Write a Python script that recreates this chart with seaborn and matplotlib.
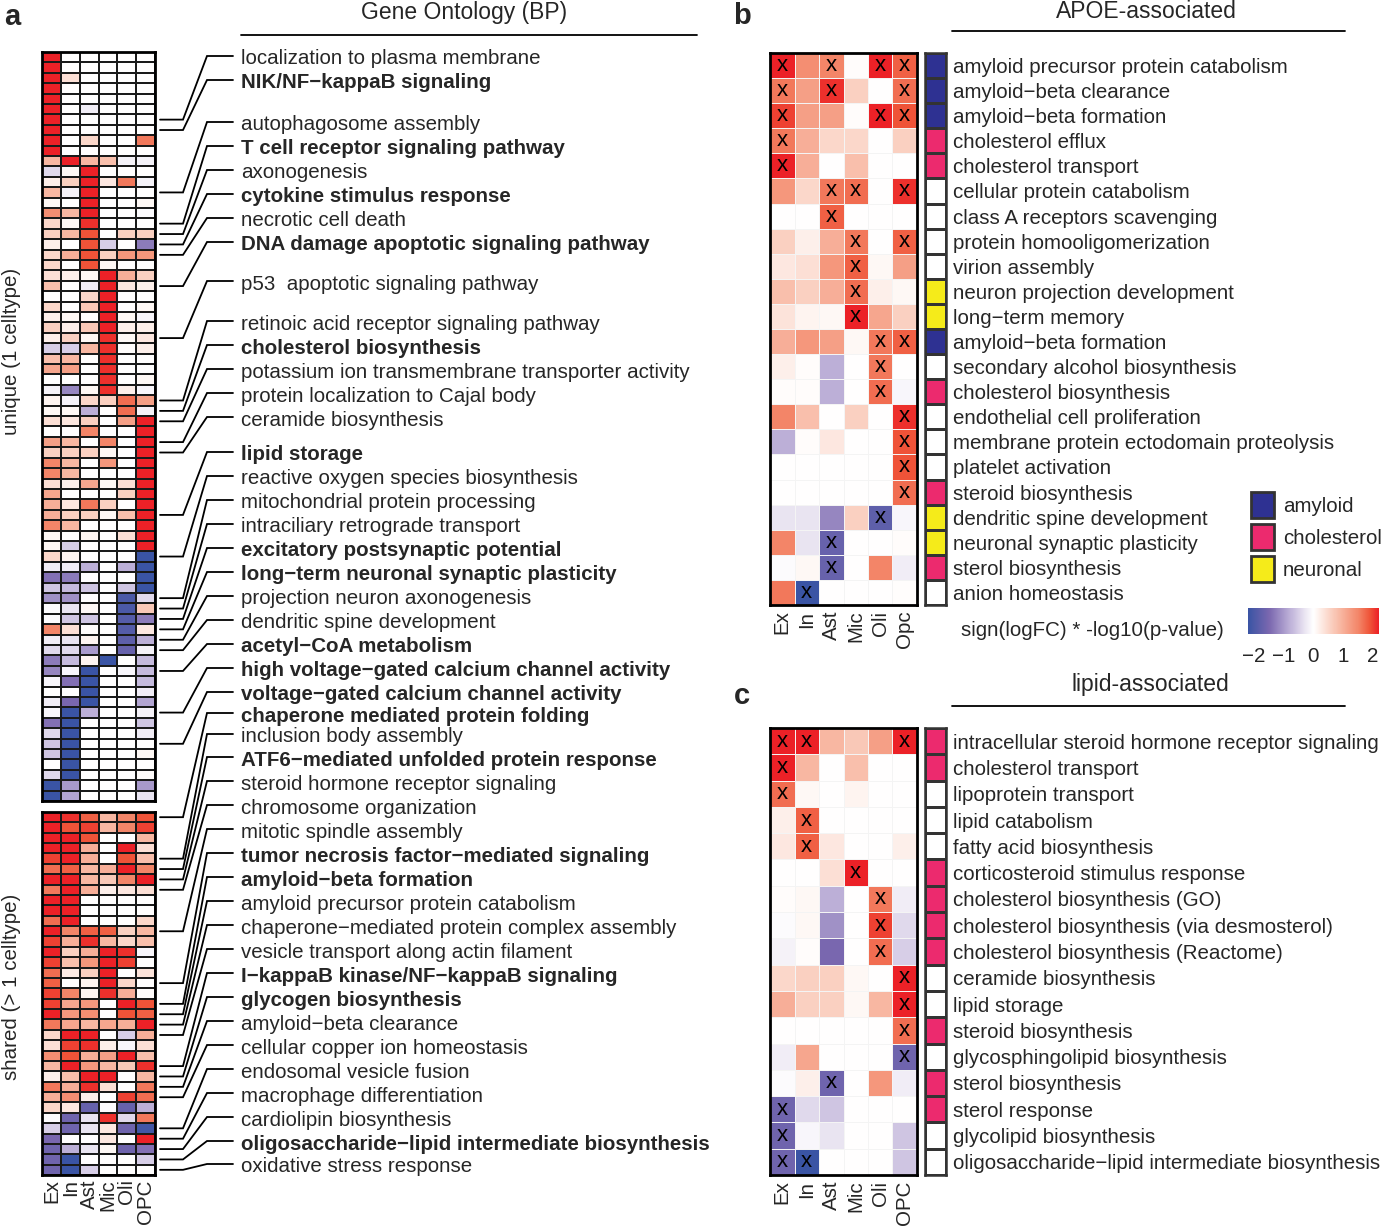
import numpy as np
import pandas as pd
import matplotlib
matplotlib.use("Agg")
import matplotlib.pyplot as plt
import seaborn as sns
from matplotlib.colors import LinearSegmentedColormap, ListedColormap, Normalize
from matplotlib.cm import ScalarMappable
from matplotlib.patches import Patch

sns.set_style("white")
plt.rcParams['font.family'] = ['Liberation Sans', 'DejaVu Sans']

# ---------------- data ----------------
cell_types = ['Ex', 'In', 'Ast', 'Mic', 'Oli', 'OPC']
cell_types_b = ['Ex', 'In', 'Ast', 'Mic', 'Oli', 'Opc']

# panel a, unique (1 celltype) block, columns = cell_types
unique_vals = [
    [2.3, 0, 0, 0, 0, 0], [2.3, 0, 0, 0, 0, 0], [2.3, 0.4, 0, 0, 0, 0],
    [2.3, 0, 0, 0, 0, 0], [2.3, 0, 0, 0, 0, 0], [2.3, 0, -0.2, 0, 0, 0],
    [2.3, 0, 0, 0, 0, 0], [2.3, 0, 0, 0, 0, 0], [2.3, 0, 0.5, 0, 0, 1.6],
    [2.3, 0, 0, 0, 0, 0], [0.9, 2.3, 0.9, 0.8, -0.15, -0.15], [-0.4, 0.1, 2.3, 0, 0, 0],
    [0.2, 0.6, 2.3, 0.3, 1.6, -0.15], [0.9, -0.15, 2.3, 0, 0, 0], [0.1, 0, 2.3, 0, 0, 0.1],
    [1.4, 0.9, 2.3, 0, 0, -0.05], [0.5, 0.1, 2.1, 0, 0, 0], [0.6, 0.9, 1.9, 0, 0.6, 0.6],
    [0.2, 0, 1.9, -0.5, 0, -1.3], [0.5, 1.0, 1.9, 0.6, 1.3, 1.3], [0.5, 0, 1.9, 0.1, 0, 0],
    [0.4, 0.2, 0.1, 2.3, 1.0, 0.6], [0.8, 0, -0.2, 2.3, 0.3, 0.2], [0, 0, 0.5, 2.3, 0, 0],
    [0.5, 0, 0.7, 2.3, 0, 0.1], [0.2, 0.1, 0, 2.3, 0.1, -0.1], [0.6, 0.2, 0.7, 2.3, 0.2, 0.2],
    [0.2, 0.6, 0.1, 2.1, 0.1, 0.3], [-0.5, -0.5, 0.9, 2.1, 0.05, 0.2], [0.8, 0.9, 0, 2.1, 0, 0],
    [1.1, 1.2, 0, 2.1, 0, 0], [0, 0, 0, 2.1, 0, 0.1], [-0.15, -1.2, 0.1, 2.1, 0.2, -0.1],
    [0.15, -0.15, 0.5, 0.6, 1.7, 1.2], [0.1, 0.1, -0.8, 0, 1.7, -0.15], [0.4, 0.3, 0.6, 0, 1.2, 2.3],
    [0, 0, 1.5, 0, 0, 2.3], [1.2, 0.9, 0, 1.5, 0, 2.3], [0.6, 0.6, 0.6, 0.1, 0, 2.3],
    [1.5, 0.9, 0, 1.3, 0, 2.3], [1.5, 0.9, 0, 0, 0, 2.3], [0.4, 0.2, 1.1, 0.1, 0.4, 2.3],
    [1.1, 0, 0, 0, 0.6, 2.3], [1.0, 0.3, 1.6, 0.6, 0, 2.3], [1.0, 0.6, 0.6, 0.1, 0.8, 2.3],
    [1.5, 0.9, 0, 0, 0, 2.3], [0.1, 0, 0.15, 0, 0.4, 2.3], [0.1, -0.5, 0, 0, 0, 2.3],
    [0.5, 0.15, 0, 0, 0, -2.3], [-0.2, -0.2, -0.8, 0, -0.8, -2.3], [-1.4, -1.3, 0, 0, 0, -2.3],
    [-0.6, -0.7, -0.6, 0, -0.6, -2.3], [-1.1, -1.1, 0, 0, -2.0, -0.4], [-0.05, -0.3, 0.1, 0, -2.0, 0.7],
    [-0.05, -0.6, -0.6, 0, -1.9, -1.3], [1.5, 0.4, 0.05, 0, -1.9, 0.3], [-0.2, -0.3, 0.15, 0, -1.8, -0.8],
    [-0.4, -0.4, -1.0, 0, -1.7, -0.15], [-1.3, -0.7, 0.15, -2.2, 0, -0.7], [-1.2, -0.1, -2.3, 0, -0.1, -0.7],
    [-0.1, -1.4, -2.3, 0, 0, -0.7], [0, 0, -2.2, 0, 0, -0.2], [-0.2, -1.5, -2.2, 0, 0, -0.9],
    [-0.1, -2.3, -0.8, 0, 0, -0.15], [-1.4, -2.3, 0, 0, 0, -0.6], [-0.4, -2.3, 0, 0, 0, -0.2],
    [-0.6, -2.3, 0, 0, 0, 0], [-0.6, -2.3, 0, 0, 0, 0.1], [0, -2.3, 0, 0, 0, 0],
    [-0.4, -2.3, 0, 0, 0, 0.05], [-2.3, -1.0, 0, 0, 0, -1.0], [-2.3, -0.9, 0, 0, 0, -0.3],
]

# panel a, shared (> 1 celltype) block
shared_vals = [
    [2.3, 2.1, 1.8, 0.9, 1.5, 1.9], [2.3, 1.9, 2.0, 0.9, 1.5, 2.0], [2.3, 2.3, 1.9, 0, 0, 0.9],
    [2.3, 2.3, 1.0, 0, 2.3, 0.4], [2.0, 2.3, 1.0, 0, 1.9, 0.8], [1.7, 1.8, 0.9, 1.0, 2.2, 1.5],
    [2.3, 2.3, 0.9, 0.7, 1.5, 2.3], [1.6, 2.3, 1.0, 0.2, 0.3, 0.4], [2.3, 2.3, 0, 0, 0, 0],
    [2.3, 2.3, 0, 0, 0, 0], [1.7, 2.2, 0, 0, 0, 0.5], [2.3, 1.5, 1.8, 1.8, 0.6, 0.9],
    [2.0, 1.0, 2.1, 0.9, 0.5, 0.8], [2.3, 0.6, 1.0, 2.3, 2.1, -0.1], [2.0, 0.8, 1.3, 2.3, 2.0, 0],
    [1.7, 0.25, 0.6, 2.3, 0, 0.35], [1.8, 0, 0.15, 2.3, 0.5, 0], [2.0, 1.5, 0.15, 2.1, 1.0, 0.05],
    [2.0, 1.1, 1.3, 0, 2.3, 1.9], [2.3, 1.3, 1.4, 0, 1.9, 1.8], [1.6, 1.1, 0.9, 1.1, 1.0, 2.3],
    [0.5, 2.3, 2.3, 0, -0.5, 1.0], [0.4, 2.0, 2.1, 0.2, -0.1, 0.4], [1.4, 1.9, 1.0, 1.2, 2.3, 0.8],
    [0.9, 2.3, 1.3, 0.9, 0.7, 2.1], [0.2, 0.8, 2.3, 2.3, 0, 0.9], [1.6, 1.0, 2.1, 0.4, 0, 1.6],
    [1.0, 1.4, 0.2, 0, 2.0, 1.7], [0.5, 0.3, -1.7, -0.05, -1.7, -0.8], [-0.05, -1.6, -0.3, 2.1, -0.4, 1.6],
    [-0.5, -1.6, -0.3, 0.3, -1.6, -2.1], [-1.5, 0, 0, 0.3, 0, 2.3], [-1.6, -0.8, -0.3, 0.1, -1.6, -1.4],
    [-1.6, -2.3, 0, 0, 0, -0.5], [-1.6, -2.3, -0.5, 0, 0, 0],
]

go_terms = [
    'localization to plasma membrane', 'NIK/NF\u2212kappaB signaling', 'autophagosome assembly',
    'T cell receptor signaling pathway', 'axonogenesis', 'cytokine stimulus response',
    'necrotic cell death', 'DNA damage apoptotic signaling pathway', 'p53  apoptotic signaling pathway',
    'retinoic acid receptor signaling pathway', 'cholesterol biosynthesis',
    'potassium ion transmembrane transporter activity', 'protein localization to Cajal body',
    'ceramide biosynthesis', 'lipid storage', 'reactive oxygen species biosynthesis',
    'mitochondrial protein processing', 'intraciliary retrograde transport',
    'excitatory postsynaptic potential', 'long\u2212term neuronal synaptic plasticity',
    'projection neuron axonogenesis', 'dendritic spine development', 'acetyl\u2212CoA metabolism',
    'high voltage\u2212gated calcium channel activity', 'voltage\u2212gated calcium channel activity',
    'chaperone mediated protein folding', 'inclusion body assembly',
    'ATF6\u2212mediated unfolded protein response', 'steroid hormone receptor signaling',
    'chromosome organization', 'mitotic spindle assembly', 'tumor necrosis factor\u2212mediated signaling',
    'amyloid\u2212beta formation', 'amyloid precursor protein catabolism',
    'chaperone\u2212mediated protein complex assembly', 'vesicle transport along actin filament',
    'I\u2212kappaB kinase/NF\u2212kappaB signaling', 'glycogen biosynthesis', 'amyloid\u2212beta clearance',
    'cellular copper ion homeostasis', 'endosomal vesicle fusion', 'macrophage differentiation',
    'cardiolipin biosynthesis', 'oligosaccharide\u2212lipid intermediate biosynthesis',
    'oxidative stress response',
]
go_bold = [2, 4, 6, 8, 11, 15, 19, 20, 23, 24, 25, 26, 28, 32, 33, 37, 38, 44]
# heatmap row (1-based) each GO term points to
go_rows_unique = [7, 8, 14, 17, 18, 19, 20, 23, 28, 34, 35, 36, 38, 39, 45, 49, 53, 54, 55, 56, 57,
                  58, 60, 64, 67]
go_rows_shared = [1, 5, 6, 7, 8, 12, 17, 19, 20, 21, 22, 25, 26, 27, 28, 31, 32, 33, 34, 35]

# panel b, APOE-associated
apoe_terms = [
    'amyloid precursor protein catabolism', 'amyloid\u2212beta clearance', 'amyloid\u2212beta formation',
    'cholesterol efflux', 'cholesterol transport', 'cellular protein catabolism',
    'class A receptors scavenging', 'protein homooligomerization', 'virion assembly',
    'neuron projection development', 'long\u2212term memory', 'amyloid\u2212beta formation',
    'secondary alcohol biosynthesis', 'cholesterol biosynthesis', 'endothelial cell proliferation',
    'membrane protein ectodomain proteolysis', 'platelet activation', 'steroid biosynthesis',
    'dendritic spine development', 'neuronal synaptic plasticity', 'sterol biosynthesis',
    'anion homeostasis',
]
apoe_vals = [
    [2.3, 1.4, 1.5, 0.05, 2.2, 1.8], [1.6, 1.2, 2.1, 0.6, 0, 1.7], [2.0, 1.2, 1.2, 0.05, 2.3, 1.9],
    [1.6, 1.0, 0.5, 0.5, 0, 0.6], [2.3, 1.0, 0, 0.8, 0, 0], [1.3, 0.5, 1.6, 1.7, 0, 2.1],
    [0, 0, 1.8, 0, 0, 0], [0.6, 0.2, 1.0, 1.6, 0, 1.8], [0.3, 0.4, 1.3, 1.8, 0.1, 1.2],
    [0.8, 0.6, 1.0, 1.7, 0.2, 0.1], [0.35, 0.15, 0.1, 2.3, 1.1, 0.6], [1.0, 1.3, 1.2, 0.1, 1.6, 1.8],
    [0.2, 0.05, -0.8, 0, 1.6, 0], [0.05, 0.05, -0.8, 0, 1.7, -0.1], [1.5, 0.8, 0, 0.6, 0, 2.1],
    [-0.8, 0.05, 0.3, 0, 0, 1.9], [0, 0, 0, 0, 0, 1.9], [0, 0, 0, 0, 0, 1.7],
    [-0.3, -0.3, -1.2, 0.6, -1.8, -0.1], [1.5, -0.3, -1.7, 0, 0, 0.05], [-0.05, 0.1, -1.7, 0, 1.5, -0.2],
    [1.6, -2.3, 0, 0, 0, 0.02],
]
apoe_sig = ['X.X.XX', 'X.X..X', 'X...XX', 'X.....', 'X.....', '..XX.X', '..X...', '...X.X',
            '...X..', '...X..', '...X..', '....XX', '....X.', '....X.', '.....X', '.....X',
            '.....X', '.....X', '....X.', '..X...', '..X...', '.X....']
apoe_cat = [1, 1, 1, 2, 2, 0, 0, 0, 0, 3, 3, 1, 0, 2, 0, 0, 0, 2, 3, 3, 2, 0]

# panel c, lipid-associated
lipid_terms = [
    'intracellular steroid hormone receptor signaling', 'cholesterol transport', 'lipoprotein transport',
    'lipid catabolism', 'fatty acid biosynthesis', 'corticosteroid stimulus response',
    'cholesterol biosynthesis (GO)', 'cholesterol biosynthesis (via desmosterol)',
    'cholesterol biosynthesis (Reactome)', 'ceramide biosynthesis', 'lipid storage',
    'steroid biosynthesis', 'glycosphingolipid biosynthesis', 'sterol biosynthesis', 'sterol response',
    'glycolipid biosynthesis', 'oligosaccharide\u2212lipid intermediate biosynthesis',
]
lipid_vals = [
    [2.3, 2.3, 0.9, 0.7, 1.2, 2.3], [2.3, 0.9, 0, 0.8, 0, 0], [1.7, 0.1, 0, 0.15, 0, 0],
    [0.2, 1.8, 0, 0, 0, 0], [0.3, 1.8, 0.3, 0, 0, 0.2], [0, 0, 0.4, 2.3, 0, 0],
    [0.05, 0.1, -0.8, 0, 1.6, -0.2], [-0.05, 0.1, -1.1, 0, 2.0, -0.4], [-0.15, 0.05, -1.5, 0, 1.7, -0.5],
    [0.5, 0.6, 0.6, 0.1, 0, 2.3], [1.0, 0.6, 0.6, 0.1, 0.9, 2.3], [0, 0, 0, 0, 0, 1.7],
    [-0.2, 1.1, 0, 0, 0, -1.6], [-0.05, 0.2, -1.6, 0, 1.3, -0.2], [-1.6, -0.4, -0.6, 0, 0, 0],
    [-1.6, -0.1, -0.3, 0, 0, -0.6], [-1.6, -2.3, 0, 0, 0, -0.6],
]
lipid_sig = ['XX...X', 'X.....', 'X.....', '.X....', '.X....', '...X..', '....X.', '....X.',
             '....X.', '.....X', '.....X', '.....X', '.....X', '..X...', 'X.....', 'X.....', 'XX....']
lipid_cat = [2, 2, 0, 0, 0, 2, 2, 2, 2, 0, 0, 2, 0, 2, 2, 0, 0]

cat_names = ['amyloid', 'cholesterol', 'neuronal']
cat_colors = ['#FFFFFF', '#2E3192', '#EC2A6E', '#F5EB1A']

# ---------------- figure ----------------
W, H = 1389, 1228
fig = plt.figure(figsize=(W / 100, H / 100), dpi=100)

VMAX = 2.2
cmap = LinearSegmentedColormap.from_list('div', [
    (0.0, '#3A54A4'), (0.16, '#7A67AF'), (0.32, '#BDB0D8'), (0.43, '#E9E3F1'), (0.5, '#FFFFFF'),
    (0.59, '#FCE0D6'), (0.70, '#F8B9A4'), (0.84, '#F3876A'), (0.93, '#EF5539'), (1.0, '#EC2127')])


def px_axes(x0, y0, x1, y1):
    return fig.add_axes([x0 / W, 1 - y1 / H, (x1 - x0) / W, (y1 - y0) / H])


def frame(ax, lw=2.0, color='black'):
    for s in ax.spines.values():
        s.set_visible(True)
        s.set_linewidth(lw)
        s.set_color(color)


FS = 14.8
TFS = 16.5

# panel a heatmaps
A_X0, A_X1 = 42, 155
U_Y0, U_Y1 = 52, 801
S_Y0, S_Y1 = 812, 1175
ax_u = px_axes(A_X0, U_Y0, A_X1, U_Y1)
sns.heatmap(pd.DataFrame(unique_vals, columns=cell_types), ax=ax_u, cmap=cmap, vmin=-VMAX, vmax=VMAX,
            cbar=False, linewidths=1.3, linecolor='#1a1a1a', xticklabels=False, yticklabels=False)
frame(ax_u)
ax_s = px_axes(A_X0, S_Y0, A_X1, S_Y1)
sns.heatmap(pd.DataFrame(shared_vals, columns=cell_types), ax=ax_s, cmap=cmap, vmin=-VMAX, vmax=VMAX,
            cbar=False, linewidths=1.3, linecolor='#1a1a1a', yticklabels=False)
frame(ax_s)
ax_s.set_xticklabels(cell_types, rotation=90, fontsize=FS)
ax_s.tick_params(axis='x', length=0, pad=3)
ax_s.set_xlabel('')


def small_heatmap(box, vals, sig, cats, terms, cols):
    x0, y0, x1, y1 = box
    ax = px_axes(x0, y0, x1, y1)
    marks = np.array([[c.replace('X', 'x').replace('.', '') for c in s] for s in sig])
    sns.heatmap(pd.DataFrame(vals, columns=cols), ax=ax, cmap=cmap, vmin=-VMAX, vmax=VMAX, cbar=False,
                annot=marks, fmt='', annot_kws={'fontsize': 16, 'color': 'black'},
                linewidths=0.4, linecolor='#f4f4f4', yticklabels=False)
    frame(ax)
    ax.set_xticklabels(cols, rotation=90, fontsize=FS)
    ax.tick_params(axis='x', length=0, pad=4)
    ax.set_xlabel('')
    axc = px_axes(925, y0, 946, y1)
    sns.heatmap(np.array(cats).reshape(-1, 1), ax=axc, cmap=ListedColormap(cat_colors), vmin=-0.5,
                vmax=3.5, cbar=False, linewidths=2.0, linecolor='#333333', xticklabels=False,
                yticklabels=terms)
    frame(axc, 1.8, '#333333')
    axc.yaxis.tick_right()
    axc.set_yticklabels(terms, rotation=0, fontsize=FS)
    axc.tick_params(axis='y', length=0, pad=5)


small_heatmap((770, 53, 917, 605), apoe_vals, apoe_sig, apoe_cat, apoe_terms, cell_types_b)
small_heatmap((770, 728, 917, 1175), lipid_vals, lipid_sig, lipid_cat, lipid_terms, cell_types)

# colorbar
cax = px_axes(1248, 608, 1379, 634)
cb = fig.colorbar(ScalarMappable(norm=Normalize(-VMAX, VMAX), cmap=cmap), cax=cax, orientation='horizontal')
cb.set_ticks([-2, -1, 0, 1, 2])
cb.set_ticklabels(['\u22122', '\u22121', '0', '1', '2'])
cb.outline.set_visible(False)
cax.tick_params(direction='in', color='white', length=5, width=1.8, labelsize=FS, pad=9)

# category legend
handles = [Patch(facecolor=c, edgecolor='#333333', linewidth=2, label=n)
           for n, c in zip(cat_names, cat_colors[1:])]
fig.legend(handles=handles, loc='upper left', bbox_to_anchor=(1247 / W, 1 - 488 / H), frameon=False,
           fontsize=FS, handlelength=1.1, handleheight=1.55, handletextpad=0.45, labelspacing=0.3,
           borderaxespad=0, borderpad=0.2)

# overlay for connectors and free text
ov = fig.add_axes([0, 0, 1, 1])
ov.set_xlim(0, W)
ov.set_ylim(H, 0)
ov.axis('off')
ov.patch.set_alpha(0)

# GO label positions (text centre y)
go_label_y = [59, 83, 125, 149, 173, 197, 221, 245, 284, 324, 348, 372, 396, 420, 455, 479, 503, 527,
              551, 575, 599, 623, 647, 671, 695, 716, 737, 760, 784, 808, 832, 856, 880, 904, 928, 952,
              976, 1000, 1024, 1048, 1072, 1096, 1120, 1144, 1167]
u_h = (U_Y1 - U_Y0) / len(unique_vals)
s_h = (S_Y1 - S_Y0) / len(shared_vals)
row_y = [U_Y0 + (r - 0.5) * u_h for r in go_rows_unique] + [S_Y0 + (r - 0.5) * s_h for r in go_rows_shared]
for i, (term, ly, ry) in enumerate(zip(go_terms, go_label_y, row_y), start=1):
    ov.plot([160, 183, 207, 233], [ry, ry, ly - 3, ly - 3], color='black', lw=1.3,
            solid_joinstyle='miter')
    ov.text(241, ly, term, fontsize=FS, va='center', ha='left',
            fontweight='bold' if i in go_bold else 'normal')

# titles
ov.text(464, 13, 'Gene Ontology (BP)', fontsize=TFS, ha='center', va='center')
ov.plot([241, 697], [35, 35], color='black', lw=1.3)
ov.text(1146, 12, 'APOE-associated', fontsize=TFS, ha='center', va='center')
ov.plot([952, 1345], [31, 31], color='black', lw=1.3)
ov.text(1150, 685, 'lipid-associated', fontsize=TFS, ha='center', va='center')
ov.plot([952, 1345], [706, 706], color='black', lw=1.3)
ov.text(1092, 630, 'sign(logFC) * -log10(p-value)', fontsize=FS, ha='center', va='center')

ov.text(12, 351, 'unique (1 celltype)', fontsize=FS, rotation=90, ha='center', va='center')
ov.text(12, 987, 'shared (> 1 celltype)', fontsize=FS, rotation=90, ha='center', va='center')

for letter, (x, y) in zip('abc', [(12, 17), (742, 16), (742, 696)]):
    ov.text(x, y, letter, fontsize=21, fontweight='bold', ha='center', va='center')

fig.savefig('out.png', dpi=100)
